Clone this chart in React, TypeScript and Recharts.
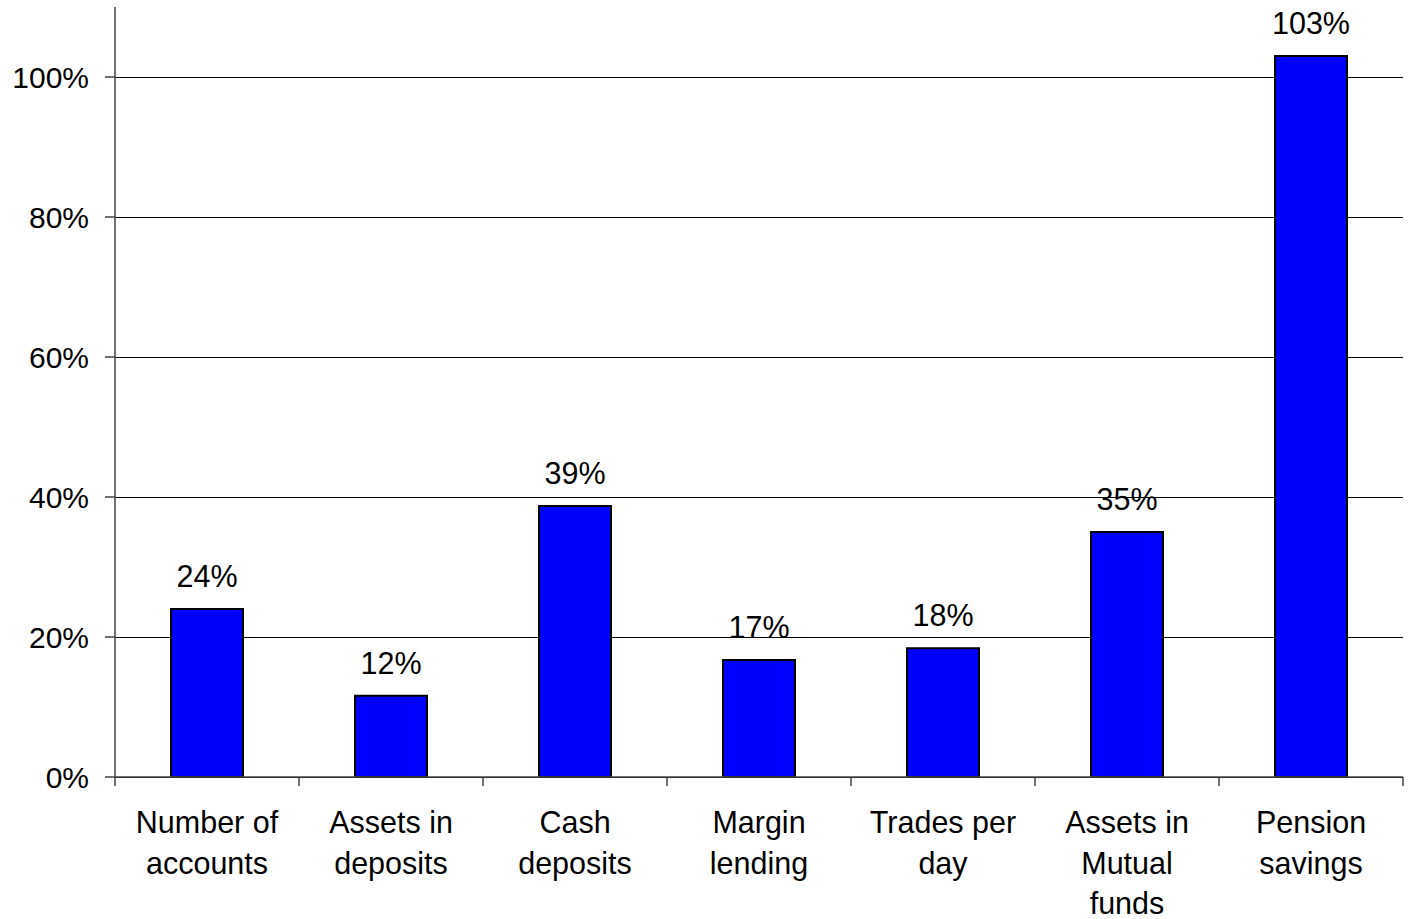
import React from "react";
import { BarChart, Bar, XAxis, YAxis, CartesianGrid, LabelList } from "recharts";

const categories = [
  "Number of\naccounts",
  "Assets in\ndeposits",
  "Cash\ndeposits",
  "Margin\nlending",
  "Trades per\nday",
  "Assets in\nMutual\nfunds",
  "Pension\nsavings",
];
const growth = [24.0, 11.6, 38.7, 16.7, 18.4, 35.0, 103.0];
const yTicks = [0, 20, 40, 60, 80, 100];

const data = categories.map((c, i) => ({ name: c, value: growth[i] }));

const FONT = "Arial, 'Liberation Sans', sans-serif";
const BAND = (1403 - 115) / categories.length;

const CatTick = (props: any) => {
  const { x, y, payload, index } = props;
  const lines = String(payload.value).split("\n");
  const left = x - BAND / 2;
  const right = x + BAND / 2;
  return (
    <g>
      <line x1={left} y1={y - 8} x2={left} y2={y + 1} stroke="#444" strokeWidth={1.5} />
      {index === categories.length - 1 && (
        <line x1={right} y1={y - 8} x2={right} y2={y + 1} stroke="#444" strokeWidth={1.5} />
      )}
      <text x={x} y={y} textAnchor="middle" fontFamily={FONT} fontSize={30.5} fill="#000">
        {lines.map((l, i) => (
          <tspan key={i} x={x} y={y + 48 + i * 40.5}>
            {l}
          </tspan>
        ))}
      </text>
    </g>
  );
};

const GridLine = (p: any) => (
  <line
    x1={p.x1}
    y1={Math.round(p.y1) + 0.5}
    x2={p.x2}
    y2={Math.round(p.y2) + 0.5}
    stroke="#000"
    strokeWidth={1}
    shapeRendering="crispEdges"
  />
);

export default function App() {
  return (
    <div style={{ position: "absolute", left: 0, top: 0, width: 1408, height: 919, background: "#fff" }}>
      <BarChart
        width={1408}
        height={919}
        data={data}
        margin={{ top: 7, right: 5, bottom: 0, left: 0 }}
        barCategoryGap="0%"
      >
        <CartesianGrid
          vertical={false}
          horizontalValues={yTicks}
          horizontal={(p: any) => <GridLine key={p.key} {...p} />}
          stroke="#000"
          strokeWidth={1}
        />
        <XAxis
          dataKey="name"
          interval={0}
          tickLine={false}
          axisLine={{ stroke: "#444", strokeWidth: 1.5 }}
          tick={<CatTick />}
          height={142}
        />
        <YAxis
          domain={[0, 110]}
          ticks={yTicks}
          allowDataOverflow
          width={115}
          tickSize={10}
          tickMargin={16}
          tickLine={{ stroke: "#444", strokeWidth: 1.5 }}
          axisLine={{ stroke: "#444", strokeWidth: 1.5 }}
          tickFormatter={(v: number) => `${v}%`}
          tick={{ fontFamily: FONT, fontSize: 30, fill: "#000" }}
        />
        <Bar
          dataKey="value"
          fill="#0000FF"
          stroke="#000"
          strokeWidth={2}
          barSize={72}
          isAnimationActive={false}
        >
          <LabelList
            dataKey="value"
            position="top"
            offset={22}
            formatter={(v: any) => `${Math.round(Number(v))}%`}
            style={{ fontFamily: FONT, fontSize: 30.5, fill: "#000" }}
          />
        </Bar>
      </BarChart>
    </div>
  );
}
